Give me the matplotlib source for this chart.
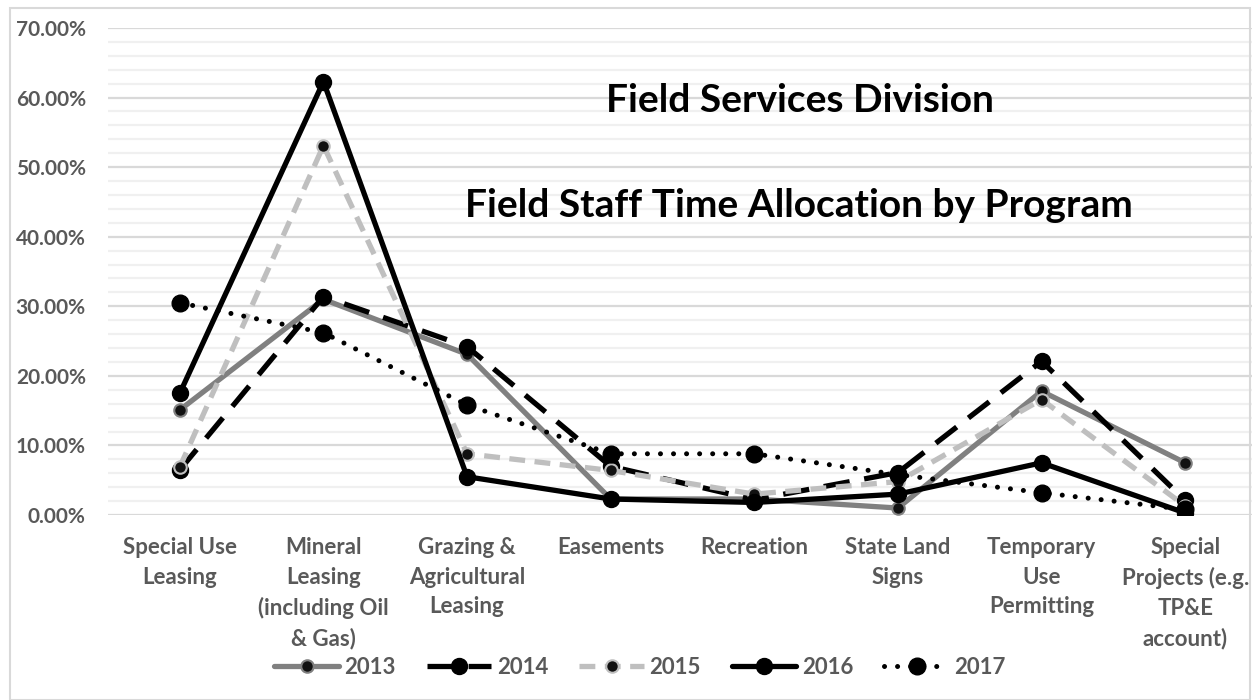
import matplotlib
matplotlib.use("Agg")
import matplotlib.pyplot as plt
from matplotlib.ticker import MultipleLocator, FuncFormatter
from matplotlib.patches import Rectangle

categories = ["Special Use\nLeasing", "Mineral\nLeasing\n(including Oil\n& Gas)",
              "Grazing &\nAgricultural\nLeasing", "Easements", "Recreation",
              "State Land\nSigns", "Temporary\nUse\nPermitting",
              "Special\nProjects (e.g.\nTP&E\naccount)"]
years = ["2013", "2014", "2015", "2016", "2017"]
v2013 = [15.1, 31.0, 23.1, 2.3, 2.3, 1.0, 17.8, 7.5]
v2014 = [6.5, 31.4, 24.2, 7.0, 2.2, 6.1, 22.1, 2.1]
v2015 = [6.9, 53.1, 8.8, 6.4, 3.0, 4.8, 16.6, 1.3]
v2016 = [17.5, 62.3, 5.5, 2.3, 1.8, 3.0, 7.5, 0.3]
v2017 = [30.5, 26.2, 15.8, 8.8, 8.8, 5.8, 3.2, 0.8]
title1 = "Field Services Division"
title2 = "Field Staff Time Allocation by Program"

plt.rcParams['font.family'] = ['Lato', 'DejaVu Sans']
W, H = 1252, 700
fig = plt.figure(figsize=(W / 100, H / 100), dpi=100)
fig.patches.append(Rectangle((10 / W, 0), 1240 / W, 692 / H, transform=fig.transFigure,
                             fill=False, edgecolor="#d9d9d9", linewidth=1.5))
ax = fig.add_axes([108 / W, 185 / H, (1257 - 108) / W, (515 - 28) / H])
ax.set_xlim(-0.5, len(categories) - 0.5)
ax.set_ylim(0, 70)
ax.yaxis.set_major_locator(MultipleLocator(10))
ax.yaxis.set_minor_locator(MultipleLocator(2))
ax.yaxis.set_major_formatter(FuncFormatter(lambda v, p: f"{v:.2f}%"))
ax.grid(which="major", axis="y", color="#d9d9d9", linewidth=1.6)
ax.grid(which="minor", axis="y", color="#f0f0f0", linewidth=1.6)
ax.set_axisbelow(True)
for s in ax.spines.values():
    s.set_visible(False)
ax.tick_params(which="both", length=0)
ax.tick_params(axis="y", labelsize=15, labelcolor="#595959", pad=16)
ax.tick_params(axis="x", labelsize=16, labelcolor="#595959", pad=16)
ax.set_xticks(range(len(categories)))
ax.set_xticklabels(categories, linespacing=1.5, fontweight="bold")
for t in ax.get_yticklabels():
    t.set_fontweight("bold")

x = list(range(len(categories)))
lw = 3.8
ax.plot(x, v2013, color="#808080", lw=lw, marker="o", ms=9, mfc="#111111", mec="#808080",
        mew=1.5, label=years[0], solid_capstyle="round")
ax.plot(x, v2014, color="black", lw=lw, ls=(0, (5, 2.8)), marker="o", ms=11.5, mfc="black",
        mec="black", label=years[1])
ax.plot(x, v2015, color="#bfbfbf", lw=lw, ls=(0, (3, 1.8)), marker="o", ms=9, mfc="#111111",
        mec="#bfbfbf", mew=1.5, label=years[2])
ax.plot(x, v2016, color="black", lw=lw, marker="o", ms=11.5, mfc="black", mec="black",
        label=years[3], solid_capstyle="round")
ax.plot(x, v2017, color="black", lw=3.6, ls=(0, (0.01, 2.6)), dash_capstyle="round",
        marker="o", ms=12, mfc="black", mec="black", label=years[4])

fig.text(800 / W, 1 - 100 / H, title1, ha="center", va="center", fontsize=28,
         fontweight="bold", color="black")
fig.text(799 / W, 1 - 205 / H, title2, ha="center", va="center", fontsize=28,
         fontweight="bold", color="black")

leg = fig.legend(loc="center", bbox_to_anchor=(640 / W, 1 - 667 / H), ncol=5, frameon=False,
                 fontsize=16, handlelength=2.9, columnspacing=1.4, handletextpad=0.25)
for t in leg.get_texts():
    t.set_color("#595959")
    t.set_fontweight("bold")

fig.savefig("out.png", dpi=100)
